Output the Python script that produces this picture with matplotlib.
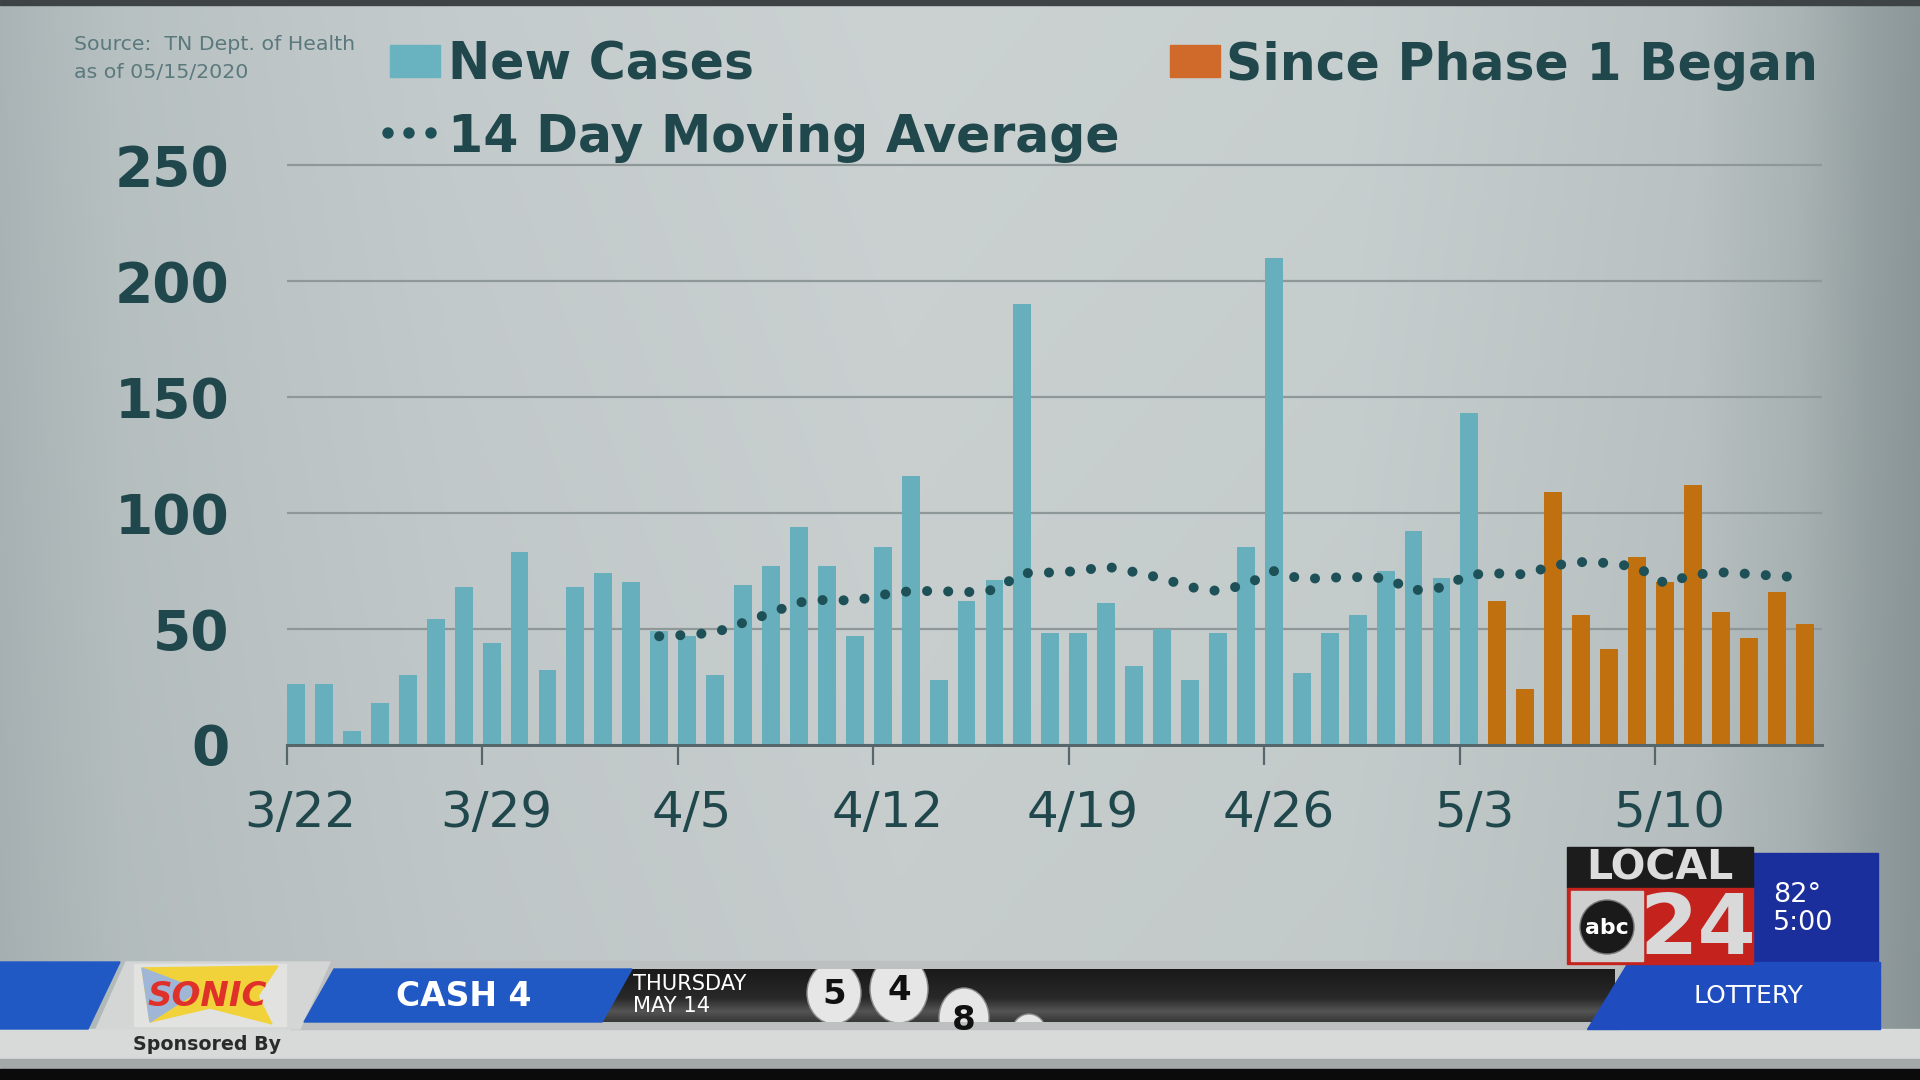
import numpy as np
import matplotlib
matplotlib.use('Agg')
import matplotlib.pyplot as plt
from matplotlib.colors import to_rgb
from matplotlib.patches import Polygon, Rectangle, Circle, Ellipse
import matplotlib.transforms as mtransforms

W, H = 1920, 1080

TEAL = '#67afbc'
ORANGE = '#c0700f'
LEG_TEAL = '#69b3c1'
LEG_ORANGE = '#cf6a2b'
DOT = '#1d5157'
INK = '#1f474c'
GRID = '#8e9899'
BASE = '#56666a'
BLUE = '#2159c4'
FONT = 'DejaVu Sans'

week_labels = ['3/22', '3/29', '4/5', '4/12', '4/19', '4/26', '5/3', '5/10']
new_cases = [26, 26, 6, 18, 30, 54, 68, 44, 83, 32,
             68, 74, 70, 49, 47, 30, 69, 77, 94, 77,
             47, 85, 116, 28, 62, 71, 190, 48, 48, 61,
             34, 50, 28, 48, 85, 210, 31, 48, 56, 75,
             92, 72, 143]
phase1_cases = [62, 24, 109, 56, 41, 81, 70, 112, 57, 46, 66, 52]
ma_start = 13
moving_avg = [46.7, 47.3, 48.3, 52.5, 56.8, 61.3, 62.5, 62.0, 64.6, 66.2,
              66.2, 65.7, 66.7, 73.9, 74.2, 74.8, 76.8, 74.4, 71.7, 67.9,
              66.2, 69.0, 74.8, 71.3, 72.0, 72.2, 71.8, 66.5, 67.7, 73.3,
              73.8, 73.4, 77.2, 78.7, 78.3, 76.5, 69.5, 73.2, 74.3, 73.6,
              72.7, 72.0]
y_ticks = [0, 50, 100, 150, 200, 250]


def pt(px):
    return px * 72.0 / 100.0


fig = plt.figure(figsize=(19.2, 10.8), dpi=100)

# full-figure layer in pixel coordinates (y down) for background + banner
bg = fig.add_axes([0, 0, 1, 1], zorder=0)
bg.set_xlim(0, W)
bg.set_ylim(H, 0)
bg.axis('off')

# -- studio background: soft horizontal vignette --
xs = np.linspace(0, W, 480)
stop_x = [0, 120, 450, 900, 1350, 1700, 1800, 1870, 1920]
stop_c = ['#aab4b6', '#b8c1c2', '#c4cbcc', '#ccd2d2', '#c8cfcf',
          '#bac2c3', '#aab4b5', '#96a1a3', '#8c9799']
rgb = np.array([to_rgb(c) for c in stop_c])
row = np.stack([np.interp(xs, stop_x, rgb[:, k]) for k in range(3)], axis=1)
ys = np.linspace(0, 1, 270)
shade = 1.0 - 0.03 * ys
img = row[None, :, :] * shade[:, None, None]
bg.imshow(img, extent=[0, W, H, 0], aspect='auto', zorder=0,
          interpolation='bilinear')
bg.add_patch(Rectangle((0, 0), W, 5, color='#3e4446', zorder=1))

# ---- chart ----
ax_l, ax_r, ax_base = 286.5, 1822.0, 744.5
px_per_unit = (744.5 - 165.0) / 250.0
ymax = 255
ax_top = ax_base - ymax * px_per_unit
ax = fig.add_axes([ax_l / W, (H - ax_base) / H, (ax_r - ax_l) / W,
                   (ax_base - ax_top) / H], zorder=2)
ax.patch.set_alpha(0)

n_blue = len(new_cases)
days = np.arange(n_blue + len(phase1_cases))
ax.bar(days[:n_blue], new_cases, width=0.64, color=TEAL, zorder=2)
ax.bar(days[n_blue:], phase1_cases, width=0.64, color=ORANGE, zorder=2)

ma_days = np.arange(ma_start, ma_start + len(moving_avg))
ax.plot(ma_days, moving_avg, color=DOT, linewidth=pt(10),
        linestyle=(0, (0.01, 2.1)), dash_capstyle='round', zorder=3)

ax.set_xlim(-0.34, 54.62)
ax.set_ylim(0, ymax)

ax.set_yticks(y_ticks)
ax.set_yticklabels([str(v) for v in y_ticks], fontsize=pt(55),
                   fontweight='bold', color=INK, family=FONT)
ax.tick_params(axis='y', length=0, pad=pt(57))
ax.yaxis.grid(True, color=GRID, linewidth=pt(2.2), zorder=0)
ax.set_axisbelow(True)

tick_pos = np.arange(len(week_labels)) * 7 - 0.34
ax.set_xticks(tick_pos)
ax.set_xticklabels([])
ax.tick_params(axis='x', length=pt(20), width=pt(2.2), color=BASE,
               direction='out')
lab_tr = mtransforms.blended_transform_factory(ax.transData, ax.transAxes)
for i, lab in enumerate(week_labels):
    ax.text(i * 7 + 0.16, -(813 - ax_base) / (ax_base - ax_top), lab,
            transform=lab_tr, ha='center', va='center', fontsize=pt(50),
            color=INK, family=FONT)

for s in ('top', 'right', 'left'):
    ax.spines[s].set_visible(False)
ax.spines['bottom'].set_color(BASE)
ax.spines['bottom'].set_linewidth(pt(3))

# ---- legend + source ----
bg.add_patch(Rectangle((390, 45), 50, 32, color=LEG_TEAL, zorder=2))
bg.add_patch(Rectangle((1170, 45), 50, 32, color=LEG_ORANGE, zorder=2))
for dx in (388, 409, 431):
    bg.add_patch(Circle((dx, 133), 5, color=DOT, zorder=2))
leg_kw = dict(fontsize=pt(50.5), fontweight='bold', color=INK, family=FONT,
              va='baseline', ha='left', zorder=3)
bg.text(448, 80, 'New Cases', **leg_kw)
bg.text(1226, 80, 'Since Phase 1 Began', **leg_kw)
bg.text(448, 152, '14 Day Moving Average', **leg_kw)

src_kw = dict(fontsize=pt(20.5), color='#5b797d', family=FONT,
              va='baseline', ha='left', zorder=3)
bg.text(74, 50, 'Source:  TN Dept. of Health', **src_kw)
bg.text(74, 78, 'as of 05/15/2020', **src_kw)

# ---- lower-third banner ----
bg.add_patch(Rectangle((0, 1029), W, 31, color='#d8dada', zorder=2))
bg.add_patch(Rectangle((0, 1059), W, 10, color='#a3a8a8', zorder=2))
bg.add_patch(Rectangle((0, 1069), W, 11, color='#0b0b0b', zorder=2))
bg.add_patch(Rectangle((290, 961), 1330, 68, color='#bdc0c0', zorder=2))

# dark ticker strip
strip = np.linspace(0, 1, 60)
strip_c = np.stack([np.interp(strip, [0, 0.55, 0.8, 1.0],
                              [0.10, 0.16, 0.33, 0.22])] * 3, axis=1)
bg.imshow(strip_c[:, None, :], extent=[590, 1615, 1022, 969],
          aspect='auto', zorder=3, interpolation='bilinear')

# left blue piece and sponsor panel
bg.add_patch(Polygon([(0, 962), (120, 962), (88, 1029), (0, 1029)],
                     closed=True, color=BLUE, zorder=4))
bg.add_patch(Polygon([(126, 962), (330, 962), (300, 1029), (96, 1029)],
                     closed=True, color='#d4d6d6', zorder=4))
bg.add_patch(Rectangle((134, 964), 152, 62, color='#e2e3e1', zorder=4))
bg.add_patch(Polygon([(142, 968), (278, 966), (258, 996), (272, 1024),
                      (210, 1008), (150, 1022)], closed=True,
                     color='#f2d23a', zorder=5))
bg.add_patch(Polygon([(142, 968), (200, 990), (150, 1022)], closed=True,
                     color='#9fb6d6', zorder=5))
bg.text(207, 996, 'SONIC', fontsize=pt(34), fontweight='heavy',
        color='#e0302a', family=FONT, ha='center', va='center', zorder=6,
        fontstyle='italic')
bg.text(207, 1044, 'Sponsored By', fontsize=pt(19), fontweight='bold',
        color='#2a2a2a', family=FONT, ha='center', va='center', zorder=6)

# CASH 4 ribbon
bg.add_patch(Polygon([(334, 969), (632, 969), (602, 1022), (304, 1022)],
                     closed=True, color=BLUE, zorder=5))
bg.text(464, 996, 'CASH 4', fontsize=pt(33), fontweight='bold',
        color='white', family=FONT, ha='center', va='center', zorder=6)
bg.text(633, 984, 'THURSDAY', fontsize=pt(21), color='white',
        family=FONT, ha='left', va='center', zorder=6)
bg.text(633, 1006, 'MAY 14', fontsize=pt(21), color='white',
        family=FONT, ha='left', va='center', zorder=6)

# lottery balls
clip = Rectangle((590, 969), 1025, 53, transform=bg.transData)
balls = [(834, 993, 54, 62, '5'), (899, 989, 58, 68, '4'),
         (964, 1018, 50, 60, '8'), (1029, 1032, 34, 36, '')]
for bx, by, bw, bh, num in balls:
    e = Ellipse((bx, by), bw, bh, facecolor='#e6e6e6', edgecolor='#8c8c8c',
                linewidth=1, zorder=6)
    bg.add_patch(e)
    e.set_clip_path(clip)
    if num:
        t = bg.text(bx, by + 2, num, fontsize=pt(34), fontweight='bold',
                    color='#111111', family=FONT, ha='center', va='center',
                    zorder=7)
        t.set_clip_path(clip)

# LOTTERY ribbon
bg.add_patch(Polygon([(1628, 962), (1880, 962), (1880, 1029), (1587, 1029)],
                     closed=True, color='#1f4cbf', zorder=5))
bg.text(1748, 996, 'LOTTERY', fontsize=pt(25), color='white',
        family=FONT, ha='center', va='center', zorder=6)

# station bug
bg.add_patch(Rectangle((1753, 853), 125, 109, color='#1b2f9c', zorder=4))
bg.text(1773, 895, '82°', fontsize=pt(27), color='white', family=FONT,
        ha='left', va='center', zorder=6)
bg.text(1773, 923, '5:00', fontsize=pt(27), color='white', family=FONT,
        ha='left', va='center', zorder=6)
bg.add_patch(Rectangle((1567, 847), 186, 41, color='#1c1c1c', zorder=5))
bg.text(1660, 869, 'LOCAL', fontsize=pt(41), fontweight='bold',
        color='#dcdcdc', family=FONT, ha='center', va='center', zorder=6)
bg.add_patch(Rectangle((1567, 888), 186, 76, color='#c4231d', zorder=5))
bg.add_patch(Rectangle((1571, 891), 72, 70, color='#cfcfcf', zorder=5))
bg.add_patch(Circle((1607, 927), 27, facecolor='#1a1a1a',
                    edgecolor='#777777', linewidth=1, zorder=6))
bg.text(1607, 928, 'abc', fontsize=pt(22), fontweight='bold', color='white',
        family=FONT, ha='center', va='center', zorder=7)
bg.text(1698, 930, '24', fontsize=pt(84), fontweight='bold',
        color='#d9d9d9', family=FONT, ha='center', va='center', zorder=6)

fig.savefig('out.png', dpi=100)
plt.close(fig)
